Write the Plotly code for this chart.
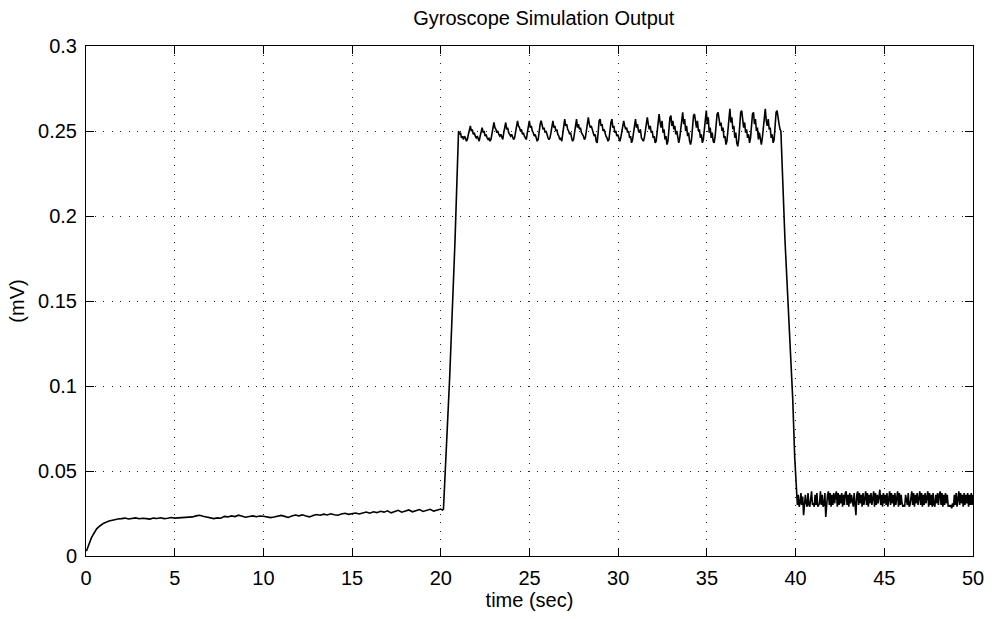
import numpy as np
import plotly.graph_objects as go

# ---- data (output in microvolts, converted to mV for plotting) ----
onset_t = [0.0, 0.05, 0.1, 0.2, 0.3, 0.4, 0.5, 0.6, 0.8, 1.0, 1.3, 1.6, 1.8]
onset_uV = [3.0, 3.5, 5.0, 8.0, 10.5, 12.5, 14.5, 16.0, 17.8, 19.3, 20.6, 21.4, 21.8]

steady1_t0, steady1_dt = 2.0, 0.2
steady1_uV = [
    22.0, 22.3, 21.8, 22.1, 22.4, 21.9, 22.2, 22.0, 21.7, 22.3, 22.1, 22.5, 22.0, 22.2, 22.6,
    22.3, 22.4, 22.7, 22.5, 22.8, 23.0,
    23.6, 24.0, 23.4, 22.8, 22.3, 22.0, 22.4, 22.2, 23.3, 23.0, 23.6, 23.2, 24.0, 23.4, 22.8,
    23.2, 23.6, 23.1, 23.5, 23.4,
    23.0, 22.6, 22.9, 23.4, 23.9, 23.3, 22.7, 23.5, 24.1, 23.6, 24.2, 23.5, 23.0, 23.8, 24.4,
    24.0, 24.6, 24.1, 24.8, 24.3, 24.0, 24.7, 25.1, 24.5, 25.0,
    25.3, 24.7, 25.4, 25.9, 25.2, 26.0, 25.5, 26.3, 25.8, 26.6, 25.4, 26.2, 26.9, 25.8, 26.4,
    27.1, 26.0, 26.7, 27.3, 26.2, 26.8, 27.5, 26.4, 27.0, 27.6,
]

rise_t = [20.1, 20.15, 20.5, 20.8, 21.0]
rise_uV = [27.0, 27.5, 105.0, 185.0, 250.0]

oscill_t0, oscill_dt = 21.0, 0.05542
oscill_uV = [
    250, 248, 249, 246, 247, 245, 247, 246, 244, 245, 248, 251,
    253, 250, 251, 248, 249, 247, 246, 247, 245, 244, 247, 251,
    252, 249, 250, 247, 248, 246, 245, 246, 244, 245, 248, 250,
    255, 252, 251, 249, 250, 248, 247, 248, 246, 245, 249, 253,
    255, 251, 252, 249, 248, 247, 248, 246, 245, 246, 250, 253,
    256, 253, 252, 250, 251, 248, 249, 247, 246, 245, 249, 254,
    256, 252, 253, 250, 249, 247, 248, 246, 244, 245, 250, 254,
    256, 253, 251, 252, 249, 250, 247, 246, 245, 246, 249, 254,
    256, 252, 253, 250, 251, 248, 247, 245, 246, 244, 249, 254,
    257, 253, 254, 251, 250, 248, 249, 246, 244, 245, 250, 255,
    257, 252, 254, 251, 252, 249, 248, 247, 245, 246, 250, 255,
    258, 254, 252, 253, 250, 249, 247, 248, 244, 243, 249, 256,
    257, 253, 254, 250, 251, 248, 247, 246, 244, 245, 251, 255,
    257, 252, 253, 249, 250, 247, 248, 245, 244, 246, 250, 254,
    256, 253, 251, 252, 249, 250, 246, 247, 243, 245, 249, 254,
    257, 252, 254, 250, 249, 251, 246, 245, 244, 246, 251, 255,
    258, 254, 251, 253, 249, 250, 246, 247, 243, 244, 250, 256,
    260, 255, 252, 256, 249, 251, 245, 247, 242, 244, 251, 258,
    259, 253, 256, 251, 253, 248, 250, 245, 243, 246, 252, 257,
    261, 254, 257, 250, 253, 247, 249, 244, 242, 245, 253, 259,
    260, 255, 252, 256, 250, 251, 246, 248, 243, 245, 252, 258,
    262, 254, 258, 249, 252, 246, 249, 244, 243, 247, 254, 260,
    261, 256, 253, 255, 250, 252, 246, 247, 242, 244, 252, 259,
    263, 255, 258, 251, 253, 246, 249, 243, 241, 245, 253, 261,
    262, 256, 252, 255, 249, 251, 246, 248, 243, 246, 254, 260,
    261, 254, 257, 250, 252, 245, 249, 244, 242, 246, 252, 259,
    263, 256, 253, 257, 251, 252, 246, 248, 243, 245, 253, 261,
    262, 256, 254, 251,
]

fall_t = [39.17, 39.4, 39.84, 39.95, 40.03, 40.08]
fall_uV = [250.0, 186.0, 92.0, 58.0, 38.0, 30.0]

band_t0, band_dt = 40.1, 0.05
band_uV = [
    30, 36, 29, 31, 37, 30, 35, 24, 30, 36, 31, 29, 37, 30, 29, 36, 38, 30, 31, 29,
    36, 30, 37, 29, 30, 31, 38, 30, 36, 29, 30, 37, 23, 31, 36, 38, 30, 37, 29, 36,
    30, 37, 31, 36, 38, 29, 37, 30, 36, 31, 37, 29, 36, 30, 37, 38, 30, 36, 29, 37,
    31, 36, 30, 29, 37, 30, 24, 36, 38, 30, 37, 31, 36, 29, 37, 30, 36, 38, 30, 37,
    29, 36, 31, 37, 30, 36, 38, 29, 37, 30, 36, 31, 37, 39, 30, 36, 29, 37, 31, 36,
    30, 37, 29, 36, 38, 30, 37, 31, 36, 29, 37, 30, 36, 38, 29, 37, 30, 36, 31, 29,
    30, 29, 36, 31, 30, 37, 29, 30, 36, 38, 30, 37, 29, 36, 31, 37, 30, 36, 38, 30,
    37, 29, 36, 30, 37, 31, 36, 38, 29, 37, 30, 36, 29, 37, 30, 29, 36, 31, 37, 30,
    36, 38, 30, 37, 29, 36, 30, 37, 31, 36, 29, 30, 29, 30, 28, 31, 29, 36, 30, 37,
    29, 36, 38, 30, 37, 31, 36, 29, 37, 30, 36, 31, 37, 29, 36, 30, 37, 30, 36,
]

x_ticks = [0, 5, 10, 15, 20, 25, 30, 35, 40, 45, 50]
y_ticks = [0, 0.05, 0.1, 0.15, 0.2, 0.25, 0.3]
y_tick_text = ["0", "0.05", "0.1", "0.15", "0.2", "0.25", "0.3"]

# ---- assemble series ----
def seg(t0, dt, vals):
    return list(t0 + dt * np.arange(len(vals))), list(vals)

t_all, v_all = [], []
for tt, vv in [
    (onset_t, onset_uV),
    seg(steady1_t0, steady1_dt, steady1_uV),
    (rise_t, rise_uV),
    seg(oscill_t0, oscill_dt, oscill_uV),
    (fall_t, fall_uV),
    seg(band_t0, band_dt, band_uV),
]:
    t_all += list(tt)
    v_all += list(vv)

mv = np.array(v_all, dtype=float) / 1000.0

font_family = "Liberation Sans, Arial, Helvetica, sans-serif"

fig = go.Figure()
fig.add_trace(go.Scatter(
    x=t_all, y=mv, mode="lines",
    line=dict(color="black", width=1.6),
    showlegend=False, hoverinfo="skip",
))

axis_common = dict(
    showline=True, linecolor="black", linewidth=1,
    mirror="ticks", ticks="inside", ticklen=8, tickwidth=1, tickcolor="black",
    showgrid=True, gridcolor="#222222", gridwidth=1, griddash="1px,7.5px",
    zeroline=False,
    tickfont=dict(family=font_family, size=20, color="black"),
)

fig.update_layout(
    width=996, height=619,
    margin=dict(l=86, r=19, t=46, b=63),
    paper_bgcolor="white", plot_bgcolor="white",
    font=dict(family=font_family, color="black"),
    title=dict(text="Gyroscope Simulation Output", x=0.546, xanchor="center",
               y=0.971, yanchor="middle",
               font=dict(family=font_family, size=20, color="black")),
    xaxis=dict(range=[0, 50], tickvals=x_ticks,
               title=dict(text="time (sec)", standoff=2,
                          font=dict(family=font_family, size=20, color="black")),
               ticklabelstandoff=4, **axis_common),
    yaxis=dict(range=[0, 0.3], tickvals=y_ticks, ticktext=y_tick_text,
               title=dict(text="(mV)", standoff=8,
                          font=dict(family=font_family, size=20, color="black")),
               ticklabelstandoff=4, **axis_common),
)

fig.write_html("out.html")
